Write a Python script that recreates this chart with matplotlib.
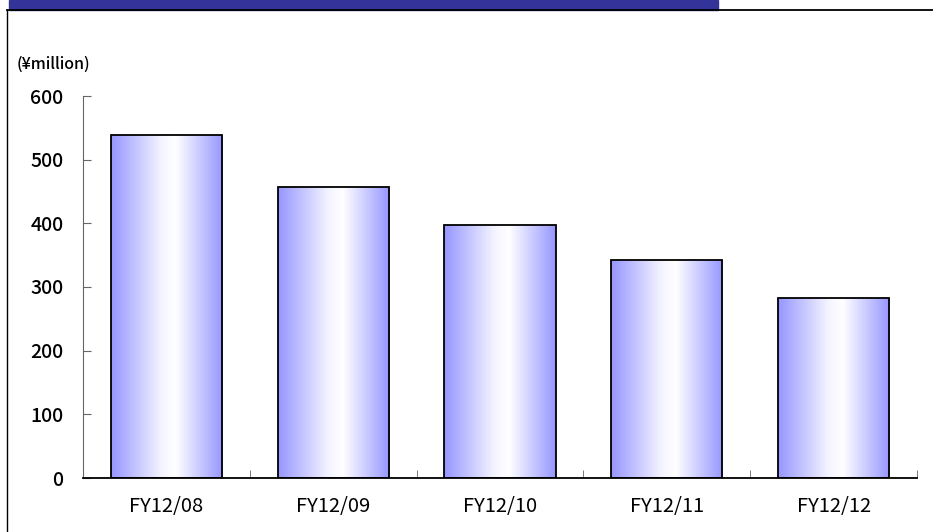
import matplotlib.pyplot as plt
import numpy as np
from matplotlib.patches import Rectangle
from matplotlib.lines import Line2D
from matplotlib.colors import LinearSegmentedColormap

# dados do gráfico
categorias = ["FY12/08", "FY12/09", "FY12/10", "FY12/11", "FY12/12"]
valores = [538, 457, 397, 342, 282]
y_ticks = [0, 100, 200, 300, 400, 500, 600]

fig = plt.figure(figsize=(9.33, 5.32), dpi=100)
ax = fig.add_axes([83 / 933, 1 - 478 / 532, (917 - 83) / 933, (478 - 96) / 532])

# faixa azul e moldura
fig.patches.append(Rectangle((9 / 933, 1 - 9.5 / 532), (718 - 9) / 933, 9.5 / 532,
                             transform=fig.transFigure, color="#333399", zorder=0))
fig.lines.append(Line2D([7 / 933, 1], [1 - 9.5 / 532] * 2, transform=fig.transFigure,
                        color="black", lw=1.3))
fig.lines.append(Line2D([7 / 933] * 2, [0, 1 - 9.5 / 532], transform=fig.transFigure,
                        color="black", lw=1.0))

x = np.arange(len(categorias))
barras = ax.bar(x, valores, width=0.666, color="none", edgecolor="black", lw=1.3, zorder=3)

# gradiente horizontal dentro de cada barra
cmap = LinearSegmentedColormap.from_list(
    "grad", [(0, "#9696ff"), (0.45, "#f4f4ff"), (0.58, "#ffffff"), (1, "#9696ff")])
grad = np.linspace(0, 1, 256).reshape(1, -1)
for b in barras:
    x0, y0 = b.get_x(), b.get_y()
    w, h = b.get_width(), b.get_height()
    im = ax.imshow(grad, cmap=cmap, aspect="auto", extent=[x0, x0 + w, y0, y0 + h], zorder=2)
    im.set_clip_path(b)

fonte = ["Noto Sans CJK JP", "DejaVu Sans"]

ax.set_xlim(-0.5, len(categorias) - 0.5)
ax.set_ylim(0, 600)
ax.set_yticks(y_ticks)
ax.set_xticks(x)
ax.set_xticklabels(categorias, fontsize=14.5, family=fonte)
ax.set_xticks(np.arange(len(categorias)) + 0.5, minor=True)
ax.tick_params(axis="x", which="major", length=0, pad=13)
ax.tick_params(axis="x", which="minor", direction="in", length=6, color="#666666")
ax.tick_params(axis="y", direction="in", length=6, color="#666666", labelsize=14, pad=14)
for lab in ax.get_yticklabels():
    lab.set_family(fonte)
    lab.set_weight("medium")

for s in ["top", "right"]:
    ax.spines[s].set_visible(False)
ax.spines["left"].set_color("#666666")
ax.spines["bottom"].set_color("black")
ax.spines["bottom"].set_linewidth(1.3)

fig.text(17 / 933, 1 - 64 / 532, "(¥million)", fontsize=11.5, va="center", ha="left",
         family=fonte, weight="medium")

fig.savefig("out.png", dpi=100)
